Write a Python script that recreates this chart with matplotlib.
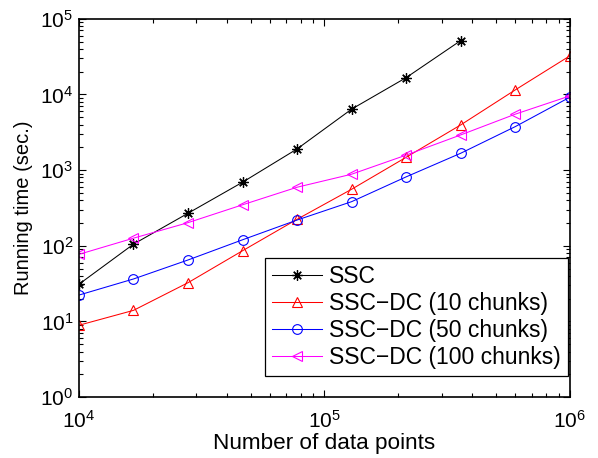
import matplotlib
matplotlib.use('Agg')
import matplotlib.pyplot as plt

plt.rcParams['font.family'] = ['Liberation Sans', 'DejaVu Sans']
plt.rcParams['mathtext.fontset'] = 'custom'
plt.rcParams['mathtext.rm'] = 'Liberation Sans'
plt.rcParams['mathtext.it'] = 'Liberation Sans:italic'
plt.rcParams['mathtext.bf'] = 'Liberation Sans:bold'

# number of data points (10 log-spaced sizes)
n_points = [10000, 16681, 27826, 46416, 77426, 129155, 215443, 359381, 599484, 1000000]

# running times in seconds
ssc = [31, 105, 269, 692, 1906, 6400, 16700, 51600]
ssc_dc10 = [8.9, 14.0, 32.5, 86, 224, 559, 1480, 3960, 11500, 32400]
ssc_dc50 = [22.3, 36.4, 64.9, 120, 219, 383, 815, 1672, 3760, 9200]
ssc_dc100 = [77, 126, 202, 348, 594, 883, 1580, 2920, 5490, 9560]

labels = ['SSC', 'SSC\u2212DC (10 chunks)', 'SSC\u2212DC (50 chunks)', 'SSC\u2212DC (100 chunks)']

asterisk = (8, 2, 0)  # matlab style '*'

fig = plt.figure(figsize=(5.98, 4.58), dpi=100)
ax = fig.add_axes([0.132, 0.133, 0.821, 0.826])

ax.loglog(n_points[:len(ssc)], ssc, '-', marker=asterisk, color='k', lw=0.75, ms=7.5, mew=0.9, label=labels[0])
ax.loglog(n_points, ssc_dc10, '-^', color='#ff0000', lw=0.75, ms=7.5, mfc='none', mew=0.8, label=labels[1])
ax.loglog(n_points, ssc_dc50, '-o', color='#0000ff', lw=0.75, ms=7, mfc='none', mew=0.8, label=labels[2])
ax.loglog(n_points, ssc_dc100, '-<', color='#ff00ff', lw=0.75, ms=7.5, mfc='none', mew=0.8, label=labels[3])

ax.set_xlim(1e4, 1e6)
ax.set_ylim(1, 1e5)
ax.set_xlabel('Number of data points', fontsize=16.2, labelpad=1)
ax.set_ylabel('Running time (sec.)', fontsize=14.5, labelpad=5)

ax.tick_params(which='both', direction='in', top=True, right=True, labelsize=15, width=0.8)
ax.tick_params(which='major', length=5)
ax.tick_params(which='minor', length=3)
ax.tick_params(axis='x', pad=9)
ax.tick_params(axis='y', pad=4)
for s in ax.spines.values():
    s.set_linewidth(1.2)

leg = ax.legend(loc='lower right', bbox_to_anchor=(0.996, 0.0556), fontsize=16.5,
                fancybox=False, framealpha=1, edgecolor='k', borderaxespad=0,
                handlelength=2.2, labelspacing=0.18, borderpad=0.3, handletextpad=0.3)
leg.get_frame().set_linewidth(0.9)

fig.savefig('out.png', dpi=100)
